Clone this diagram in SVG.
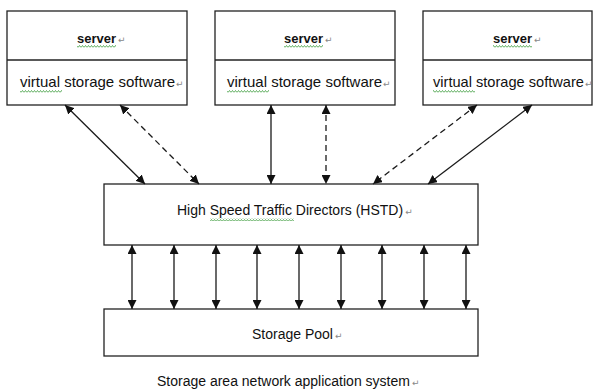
<svg xmlns="http://www.w3.org/2000/svg" width="598" height="392" viewBox="0 0 598 392">
<style>
.box{fill:#fff;stroke:#222;stroke-width:1.3}
.t{font-family:"Liberation Sans",Arial,sans-serif;fill:#111}
.b{font-weight:bold}
.rm{font-family:"DejaVu Sans",sans-serif;fill:#888;font-size:9px;font-weight:normal}
.c{stroke:#1a1a1a;stroke-width:1.3;fill:none;marker-start:url(#ah);marker-end:url(#ah)}
.d{stroke-dasharray:6 4}
.sq{fill:url(#wave)}
</style>
<defs>
<marker id="ah" viewBox="0 0 10 10" refX="10" refY="5" markerWidth="9" markerHeight="9" markerUnits="userSpaceOnUse" orient="auto-start-reverse">
<path d="M0,0 L10,5 L0,10 z" fill="#111"/>
</marker>
<pattern id="wave" width="3" height="3" patternUnits="userSpaceOnUse">
<path d="M0,2.5 L1.5,0.5 L3,2.5" stroke="#3a9a3a" stroke-width="0.8" fill="none"/>
</pattern>
</defs>
<rect width="598" height="392" fill="#fff"/>

<g id="server1">
<rect class="box" x="7" y="11" width="180" height="94"/>
<line x1="7" y1="60" x2="187" y2="60" stroke="#222" stroke-width="1.3"/>
<text class="t b" x="77" y="43" font-size="13">server<tspan class="rm" dx="2">↵</tspan></text>
<text class="t" x="20" y="87" font-size="15">virtual storage software<tspan class="rm" dx="1">↵</tspan></text>
<rect class="sq" x="77" y="45" width="39" height="3"/>
<rect class="sq" x="20" y="90" width="42" height="3"/>
</g>

<g id="server2">
<rect class="box" x="215" y="11" width="180" height="94"/>
<line x1="215" y1="60" x2="395" y2="60" stroke="#222" stroke-width="1.3"/>
<text class="t b" x="284" y="43" font-size="13">server<tspan class="rm" dx="2">↵</tspan></text>
<text class="t" x="227" y="87" font-size="15">virtual storage software<tspan class="rm" dx="1">↵</tspan></text>
<rect class="sq" x="284" y="45" width="39" height="3"/>
<rect class="sq" x="227" y="90" width="42" height="3"/>
</g>

<g id="server3">
<rect class="box" x="423" y="11" width="169" height="94"/>
<line x1="423" y1="60" x2="592" y2="60" stroke="#222" stroke-width="1.3"/>
<text class="t b" x="493" y="43" font-size="13">server<tspan class="rm" dx="2">↵</tspan></text>
<text class="t" x="433" y="87" font-size="14.6">virtual storage software<tspan class="rm" dx="1">↵</tspan></text>
<rect class="sq" x="493" y="45" width="39" height="3"/>
<rect class="sq" x="433" y="90" width="42" height="3"/>
</g>

<g id="hstd">
<rect class="box" x="104" y="184" width="374" height="61"/>
<text class="t" x="177" y="215" font-size="14">High Speed Traffic Directors (HSTD)<tspan class="rm" dx="2">↵</tspan></text>
<rect class="sq" x="210" y="218" width="84" height="3"/>
</g>

<g id="pool">
<rect class="box" x="104" y="309" width="374" height="47"/>
<text class="t" x="252" y="339" font-size="14">Storage Pool<tspan class="rm" dx="2">↵</tspan></text>
</g>

<g id="caption">
<text class="t" x="157" y="386" font-size="14">Storage area network application system<tspan class="rm" dx="2">↵</tspan></text>
</g>

<g id="connectors">
<line class="c" x1="65" y1="105" x2="145" y2="184"/>
<line class="c d" x1="120" y1="105" x2="199" y2="184"/>
<line class="c" x1="271" y1="105" x2="271" y2="184"/>
<line class="c d" x1="326" y1="105" x2="326" y2="184"/>
<line class="c d" x1="477" y1="105" x2="373" y2="184"/>
<line class="c" x1="532" y1="105" x2="428" y2="184"/>
<line class="c" x1="132" y1="245" x2="132" y2="309"/>
<line class="c" x1="174" y1="245" x2="174" y2="309"/>
<line class="c" x1="216" y1="245" x2="216" y2="309"/>
<line class="c" x1="257" y1="245" x2="257" y2="309"/>
<line class="c" x1="299" y1="245" x2="299" y2="309"/>
<line class="c" x1="341" y1="245" x2="341" y2="309"/>
<line class="c" x1="382" y1="245" x2="382" y2="309"/>
<line class="c" x1="424" y1="245" x2="424" y2="309"/>
<line class="c" x1="466" y1="245" x2="466" y2="309"/>
</g>
</svg>
